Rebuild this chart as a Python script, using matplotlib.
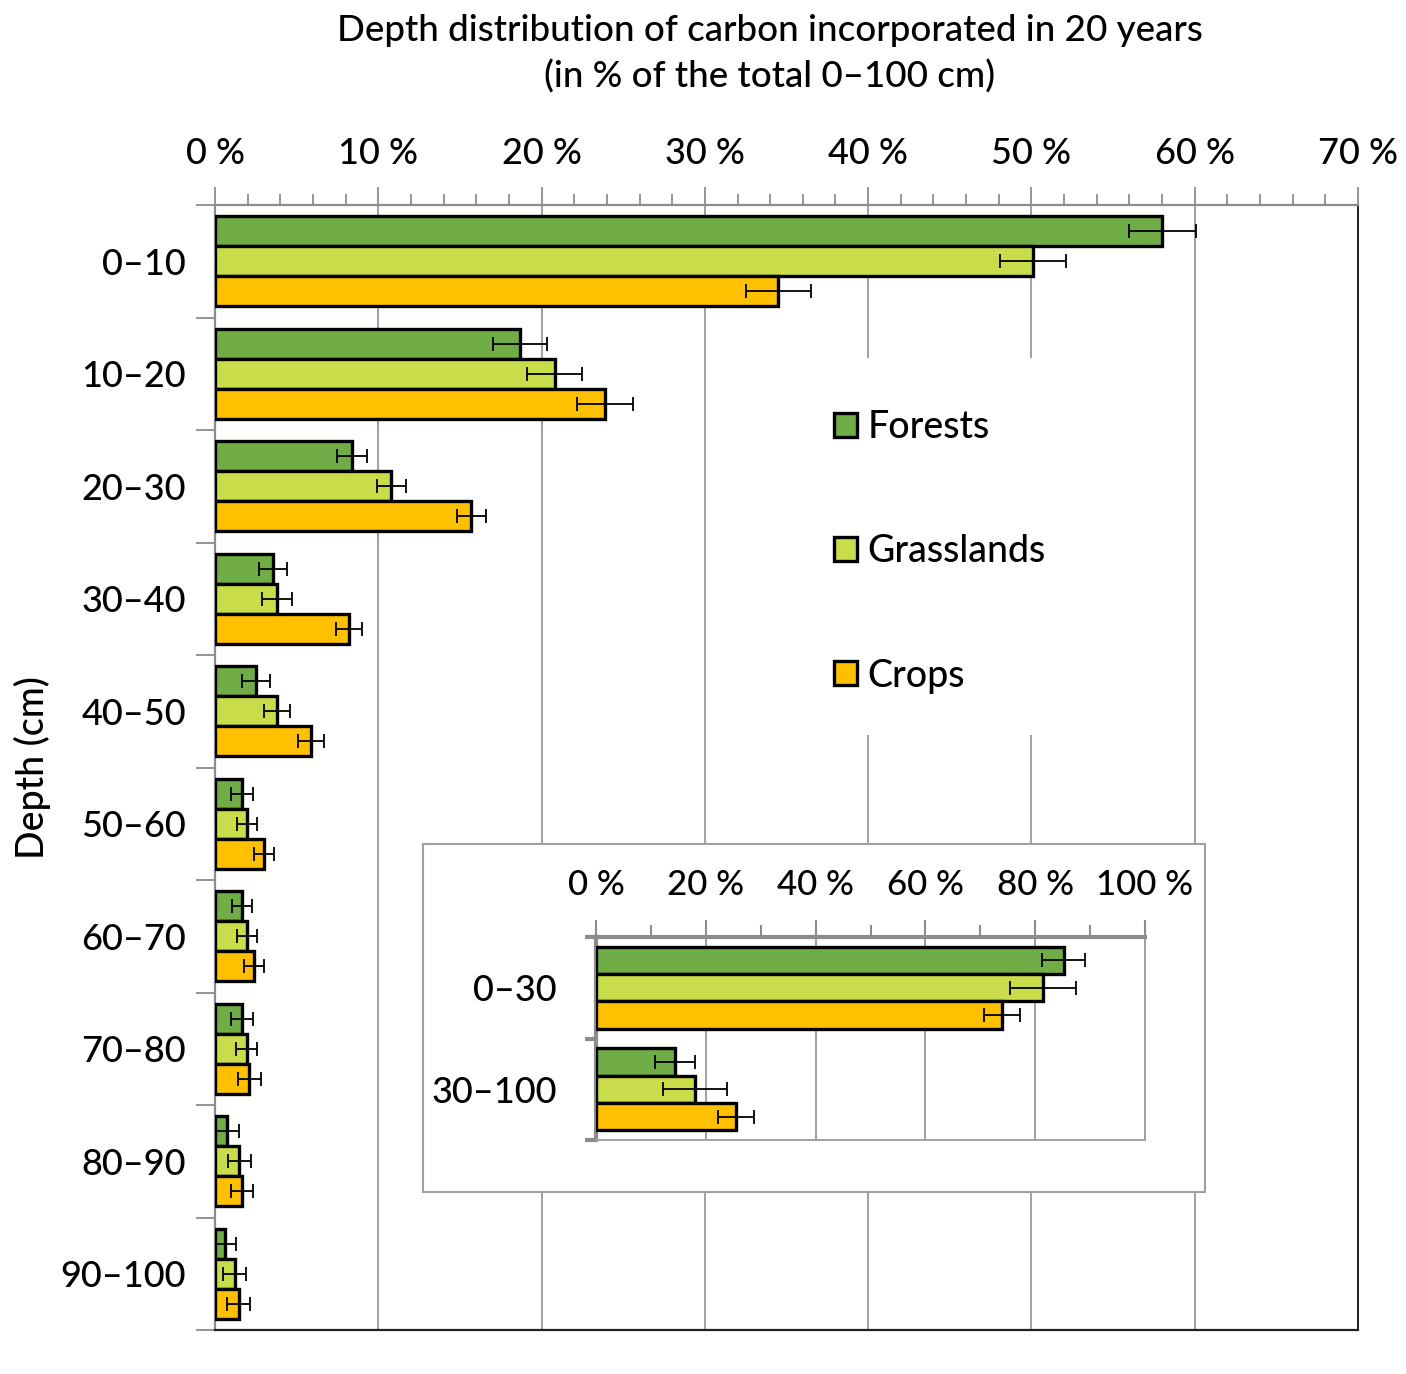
import matplotlib
matplotlib.use("Agg")
import matplotlib.pyplot as plt
import numpy as np
from matplotlib.patches import Patch, Rectangle
from matplotlib.ticker import FixedLocator, FixedFormatter, MultipleLocator

plt.rcParams['font.family'] = ['Lato', 'DejaVu Sans']
plt.rcParams['font.weight'] = 'medium'

# ---------------- data ----------------
depths = ["0–10", "10–20", "20–30", "30–40", "40–50",
          "50–60", "60–70", "70–80", "80–90", "90–100"]
series = ["Forests", "Grasslands", "Crops"]
forests = [58.0, 18.7, 8.4, 3.55, 2.5, 1.65, 1.65, 1.65, 0.75, 0.6]
grass = [50.1, 20.8, 10.8, 3.8, 3.8, 1.95, 1.95, 1.95, 1.5, 1.2]
crops = [34.5, 23.9, 15.7, 8.2, 5.9, 3.0, 2.4, 2.1, 1.65, 1.45]
forests_err = [2.05, 1.65, 0.9, 0.85, 0.85, 0.7, 0.6, 0.65, 0.7, 0.7]
grass_err = [2.0, 1.7, 0.9, 0.9, 0.8, 0.6, 0.6, 0.65, 0.7, 0.7]
crops_err = [2.0, 1.7, 0.9, 0.8, 0.8, 0.6, 0.6, 0.7, 0.7, 0.7]
main_ticks = [0, 10, 20, 30, 40, 50, 60, 70]
main_ticklabels = ["0 %", "10 %", "20 %", "30 %", "40 %", "50 %", "60 %", "70 %"]

inset_depths = ["0–30", "30–100"]
inset_forests = [85.2, 14.4]
inset_grass = [81.4, 18.0]
inset_crops = [74.0, 25.5]
inset_forests_err = [3.9, 3.7]
inset_grass_err = [6.0, 5.8]
inset_crops_err = [3.3, 3.3]
inset_ticks = [0, 20, 40, 60, 80, 100]
inset_ticklabels = ["0 %", "20 %", "40 %", "60 %", "80 %", "100 %"]

title = "Depth distribution of carbon incorporated in 20 years\n(in % of the total 0–100 cm)"
ylabel = "Depth (cm)"

colors = ["#70AD47", "#C9DD4A", "#FFC000"]
GRAY = "#8c8c8c"

W, H = 1406, 1374
fig = plt.figure(figsize=(W / 100, H / 100), dpi=100)


def fx(px):
    return px / W


def fy(py):
    return 1 - py / H


def draw_bars(ax, vals, errs, n, bh):
    y = np.arange(n)
    offs = [-bh, 0, bh]
    for v, e, c, o, lab in zip(vals, errs, colors, offs, series):
        ax.barh(y + o, v, height=bh, color=c, edgecolor="black", linewidth=2.4,
                zorder=3, label=lab)
        ax.errorbar(v, y + o, xerr=e, fmt="none", ecolor="black", elinewidth=1.3,
                    capsize=5, capthick=1.3, zorder=4)


# ---------------- main axes ----------------
ax = fig.add_axes([fx(215), fy(1330), fx(1358 - 215), (1330 - 205) / H])
n = len(depths)
draw_bars(ax, [forests, grass, crops], [forests_err, grass_err, crops_err], n, 0.268)
ax.set_xlim(0, 70)
ax.set_ylim(n - 0.5, -0.5)

ax.xaxis.tick_top()
ax.xaxis.set_major_locator(FixedLocator(main_ticks))
ax.xaxis.set_major_formatter(FixedFormatter(main_ticklabels))
ax.xaxis.set_minor_locator(MultipleLocator(2))
ax.tick_params(axis="x", which="major", length=13, width=1.3, color=GRAY,
               labelsize=26, pad=12)
ax.tick_params(axis="x", which="minor", length=8, width=1.3, color=GRAY)

ax.yaxis.set_major_locator(FixedLocator(np.arange(n)))
ax.yaxis.set_major_formatter(FixedFormatter(depths))
ax.yaxis.set_minor_locator(FixedLocator(np.arange(n + 1) - 0.5))
ax.tick_params(axis="y", which="major", length=0, labelsize=26, pad=21)
ax.tick_params(axis="y", which="minor", length=14, width=1.3, color=GRAY)

ax.grid(axis="x", which="major", color="#a0a0a0", linewidth=1.4, zorder=0)
ax.set_axisbelow(True)
for s in ["top", "left"]:
    ax.spines[s].set_color(GRAY)
    ax.spines[s].set_linewidth(1.6)
ax.spines["bottom"].set_color("#222222")
ax.spines["bottom"].set_linewidth(1.6)
ax.spines["right"].set_color("#222222")
ax.spines["right"].set_linewidth(1.4)

fig.text(fx(32), fy(768), ylabel, rotation=90, ha="center", va="center",
         fontsize=27)

# white background behind legend (hides grid)
ax.add_patch(Rectangle((fx(815), fy(735)), fx(1100 - 815), (735 - 358) / H,
                       transform=fig.transFigure, facecolor="white",
                       edgecolor="none", zorder=1))
handles = [Patch(facecolor=c, edgecolor="black", linewidth=2.4) for c in colors]
leg = ax.legend(handles, series, loc="upper left",
                bbox_to_anchor=(fx(834), fy(410)), bbox_transform=fig.transFigure,
                frameon=False, fontsize=27, handlelength=0.6, handleheight=0.6,
                handletextpad=0.3, labelspacing=2.38, borderpad=0, borderaxespad=0)

fig.text(fx(770), fy(54), title, ha="center", va="center", fontsize=26.5,
         linespacing=1.45)

# ---------------- inset ----------------
fig.add_artist(Rectangle((fx(423), fy(1192)), fx(1205 - 423), (1192 - 844) / H,
                         transform=fig.transFigure, facecolor="white",
                         edgecolor="#a0a0a0", linewidth=1.5, zorder=5))
ax2 = fig.add_axes([fx(596), fy(1140), fx(1145 - 596), (1140 - 937) / H])
ax2.set_zorder(6)
ni = len(inset_depths)
draw_bars(ax2, [inset_forests, inset_grass, inset_crops],
          [inset_forests_err, inset_grass_err, inset_crops_err], ni, 0.27)
ax2.set_xlim(0, 100)
ax2.set_ylim(ni - 0.5, -0.5)
ax2.xaxis.tick_top()
ax2.xaxis.set_major_locator(FixedLocator(inset_ticks))
ax2.xaxis.set_major_formatter(FixedFormatter(inset_ticklabels))
ax2.xaxis.set_minor_locator(MultipleLocator(10))
ax2.tick_params(axis="x", which="major", length=12, width=1.5, color=GRAY,
                labelsize=25, pad=14)
ax2.tick_params(axis="x", which="minor", length=9, width=1.5, color=GRAY)
ax2.yaxis.set_major_locator(FixedLocator(np.arange(ni)))
ax2.yaxis.set_major_formatter(FixedFormatter(inset_depths))
ax2.yaxis.set_minor_locator(FixedLocator(np.arange(ni + 1) - 0.5))
ax2.tick_params(axis="y", which="major", length=0, labelsize=26, pad=28)
ax2.tick_params(axis="y", which="minor", length=8, width=3, color=GRAY)
ax2.grid(axis="x", which="major", color="#a0a0a0", linewidth=1.4, zorder=0)
ax2.set_axisbelow(True)
for s in ["top", "left"]:
    ax2.spines[s].set_color(GRAY)
    ax2.spines[s].set_linewidth(3)
for s in ["bottom", "right"]:
    ax2.spines[s].set_color("#a0a0a0")
    ax2.spines[s].set_linewidth(1.4)

fig.savefig("out.png", dpi=100, facecolor="white")
